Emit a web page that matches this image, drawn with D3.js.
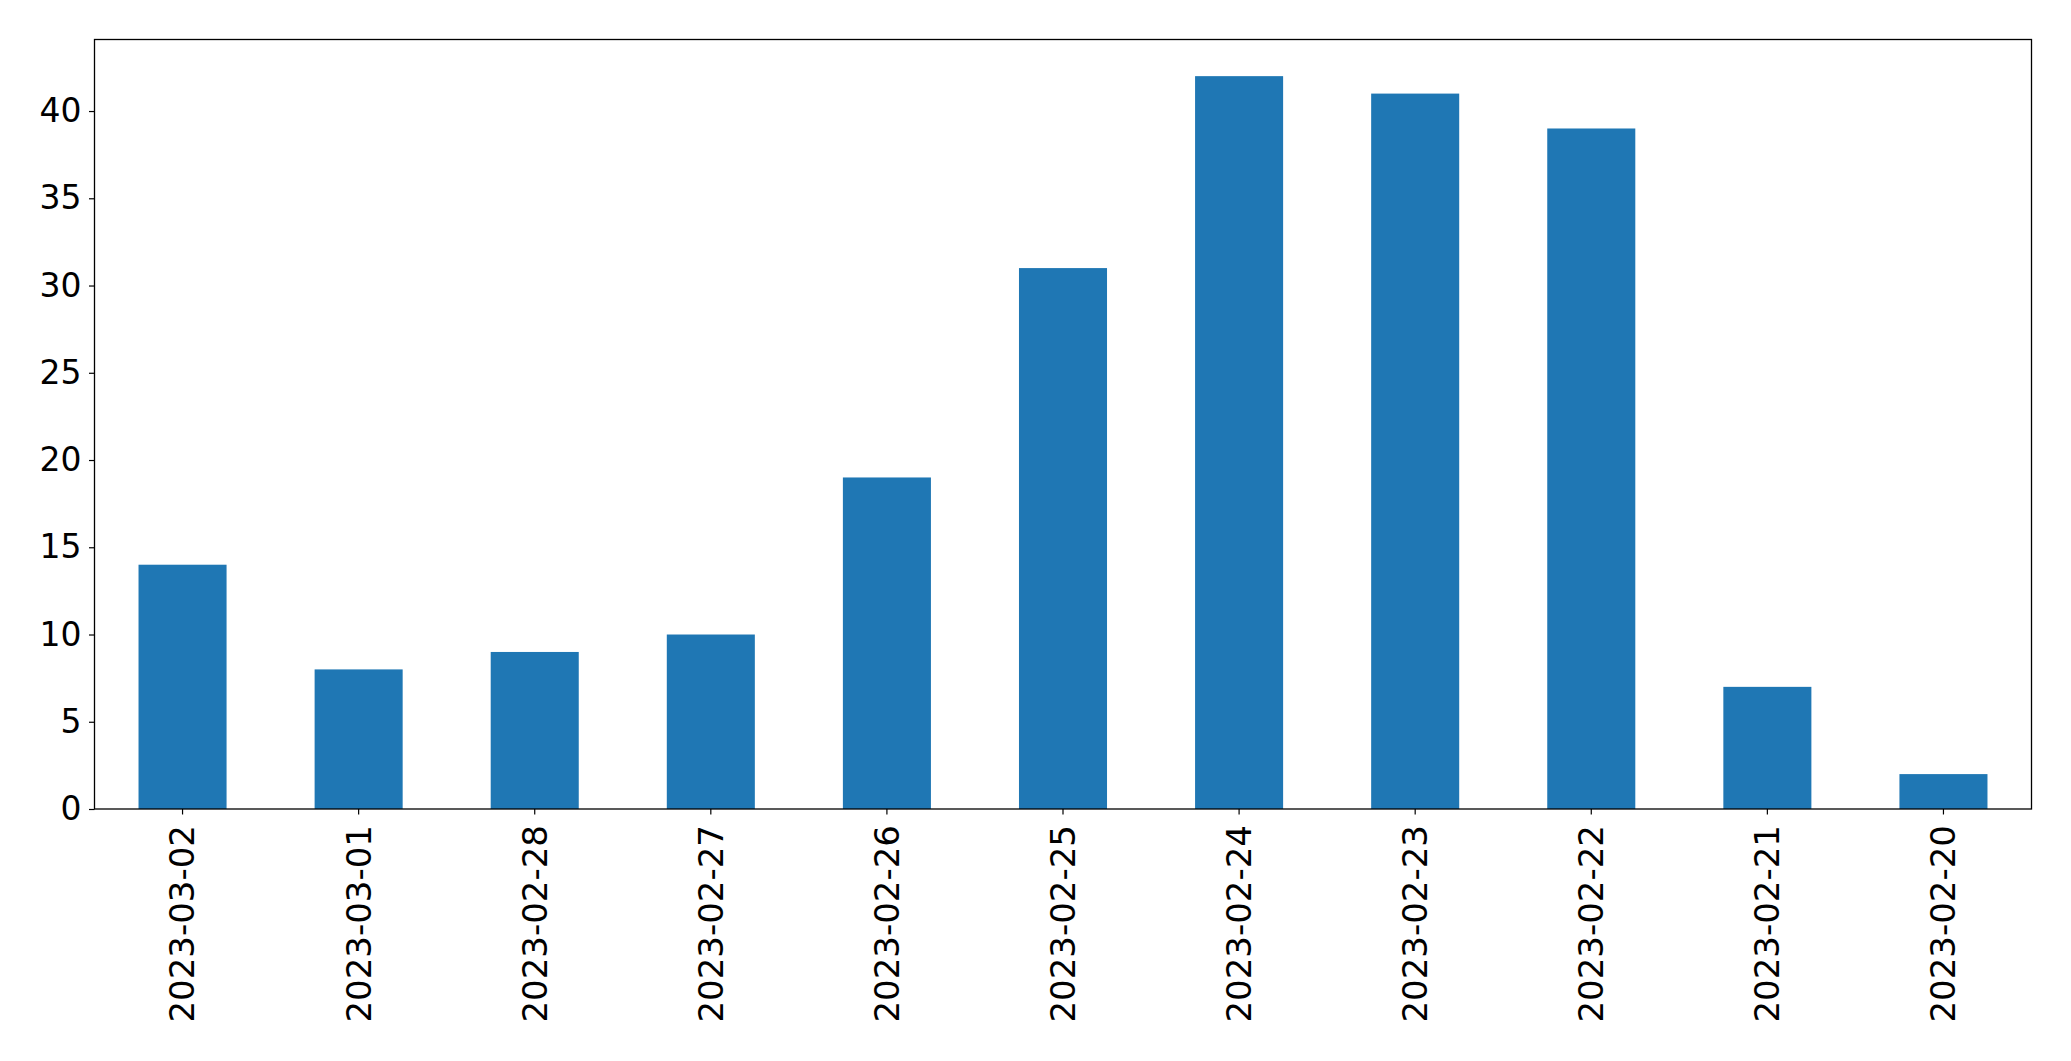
<!DOCTYPE html>
<html><head><meta charset="utf-8">
<script src="https://cdn.jsdelivr.net/npm/d3@7"></script>
<style>body{margin:0;background:#fff}svg{display:block}text{font-family:"DejaVu Sans",sans-serif}</style>
</head><body>
<script>
const categories = ["2023-03-02","2023-03-01","2023-02-28","2023-02-27","2023-02-26","2023-02-25","2023-02-24","2023-02-23","2023-02-22","2023-02-21","2023-02-20"];
const values = [14, 8, 9, 10, 19, 31, 42, 41, 39, 7, 2];
const yTicks = [0, 5, 10, 15, 20, 25, 30, 35, 40];

const W = 2071, H = 1061;
const m = {left: 94.5, top: 39.5, right: W - 2031.5, bottom: H - 809};
const svg = d3.select("body").append("svg").attr("width", W).attr("height", H);
const iw = W - m.left - m.right, ih = H - m.top - m.bottom;
const g = svg.append("g").attr("transform", `translate(${m.left},${m.top})`);

const x = d3.scaleBand().domain(categories).range([0, iw]).paddingInner(0.5).paddingOuter(0.25);
const y = d3.scaleLinear().domain([0, d3.max(values) * 1.05]).range([ih, 0]);

g.selectAll("rect.bar").data(values).join("rect").attr("class","bar")
  .attr("x", (d,i) => x(categories[i])).attr("width", x.bandwidth())
  .attr("y", d => y(d)).attr("height", d => ih - y(d)).attr("fill", "#1f77b4");

const ya = g.append("g").call(d3.axisLeft(y).tickValues(yTicks).tickSize(5.5).tickPadding(7.5));
ya.select(".domain").remove();
ya.selectAll("text").attr("font-size", 33).attr("fill","#000").attr("font-family","DejaVu Sans");
ya.selectAll("line").attr("stroke","#000").attr("stroke-width",1.2);

const xa = g.append("g").attr("transform", `translate(0,${ih})`).call(d3.axisBottom(x).tickSize(5.5).tickPadding(8));
xa.select(".domain").remove();
xa.selectAll("line").attr("stroke","#000").attr("stroke-width",1.2);
xa.selectAll("text").attr("font-size", 34).attr("fill","#000").attr("font-family","DejaVu Sans")
  .attr("transform","rotate(-90)").attr("text-anchor","end").attr("dy","0.35em")
  .attr("x", -16).attr("y", 0);

g.append("rect").attr("x",0).attr("y",0).attr("width",iw).attr("height",ih)
  .attr("fill","none").attr("stroke","#000").attr("stroke-width",1.3);
</script>
</body></html>
